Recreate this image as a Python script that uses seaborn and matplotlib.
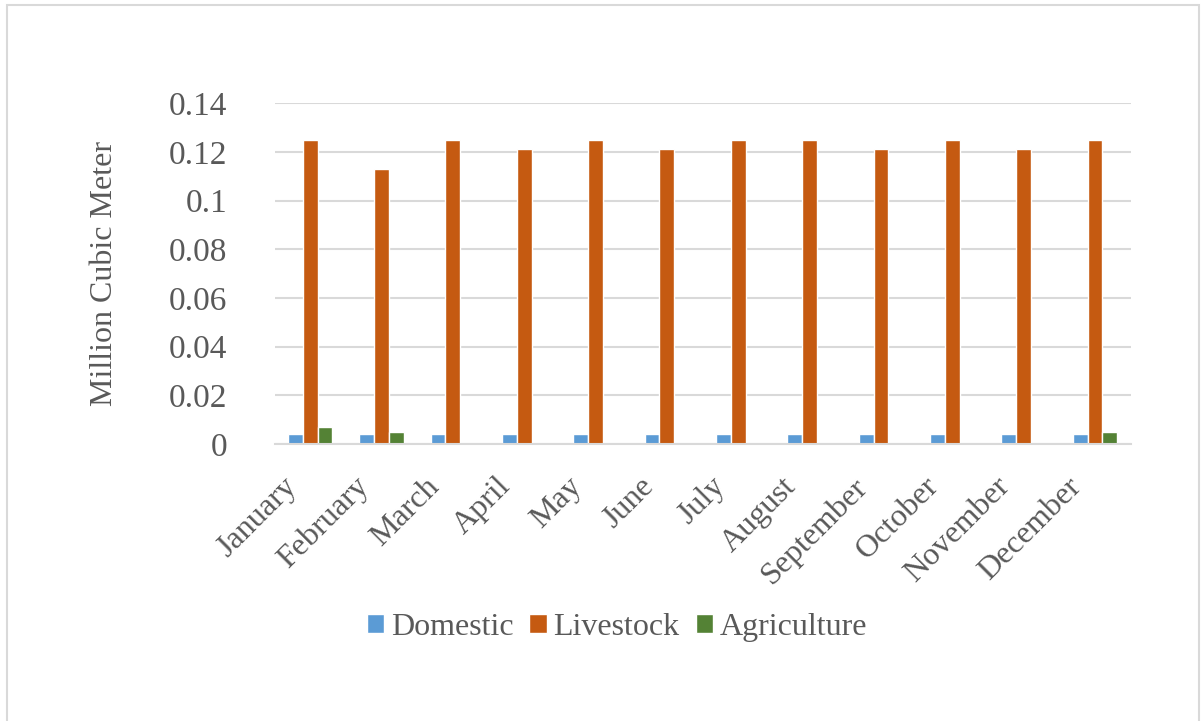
import matplotlib
matplotlib.use("Agg")
import matplotlib.pyplot as plt
import matplotlib.transforms as mtransforms
import seaborn as sns
import pandas as pd
from matplotlib.patches import Rectangle

months = ["January", "February", "March", "April", "May", "June", "July",
          "August", "September", "October", "November", "December"]
domestic = [0.004, 0.004, 0.004, 0.004, 0.004, 0.004, 0.004, 0.004, 0.004, 0.004, 0.004, 0.004]
livestock = [0.125, 0.113, 0.125, 0.121, 0.125, 0.121, 0.125, 0.125, 0.121, 0.125, 0.121, 0.125]
agriculture = [0.007, 0.005, 0.0004, 0.0004, 0.0004, 0.0004, 0.0004, 0.0004, 0.0004, 0.0004, 0.0004, 0.005]
series_names = ["Domestic", "Livestock", "Agriculture"]
colors = ["#5B9BD5", "#C55A11", "#548235"]
yticks = [0, 0.02, 0.04, 0.06, 0.08, 0.1, 0.12, 0.14]
ytick_labels = ["0", "0.02", "0.04", "0.06", "0.08", "0.1", "0.12", "0.14"]

df = pd.DataFrame({
    "Month": months * 3,
    "Series": [series_names[0]] * 12 + [series_names[1]] * 12 + [series_names[2]] * 12,
    "Value": domestic + livestock + agriculture,
})

sns.set_theme(style="white")
plt.rcParams["font.family"] = ["Liberation Serif", "DejaVu Serif"]
text_color = "#595959"
fs = 23

fig = plt.figure(figsize=(12.04, 7.21), dpi=100)
ax = fig.add_axes([0.228, 0.384, 0.711, 0.473])

sns.barplot(data=df, x="Month", y="Value", hue="Series", palette=colors,
            width=0.62, ax=ax, legend=True, saturation=1)

ax.set_ylim(0, 0.14)
ax.set_yticks(yticks)
ax.set_yticklabels(ytick_labels, fontsize=24, color=text_color)
ax.set_xticks(range(len(months)))
ax.set_xticklabels(months, rotation=45, ha="right", rotation_mode="anchor",
                   fontsize=fs, color=text_color)
ax.tick_params(axis="y", length=0, pad=34)
ax.tick_params(axis="x", length=0, pad=20)
offset = mtransforms.ScaledTranslation(-28 / 100, 0, fig.dpi_scale_trans)
for lbl in ax.get_xticklabels():
    lbl.set_transform(lbl.get_transform() + offset)
ax.set_xlabel("")
ax.set_ylabel("Million Cubic Meter", fontsize=fs, color=text_color, labelpad=36)
ax.yaxis.grid(True, color="#D9D9D9", linewidth=1.5)
ax.set_axisbelow(True)
for s in ["top", "right", "left"]:
    ax.spines[s].set_visible(False)
ax.spines["bottom"].set_color("#D9D9D9")
ax.spines["bottom"].set_linewidth(1.5)

handles, labels = ax.get_legend_handles_labels()
ax.legend(handles, labels, loc="upper center", bbox_to_anchor=(0.40, -0.41),
          ncol=3, frameon=False, fontsize=fs, handlelength=0.55, handleheight=0.55,
          handletextpad=0.2, columnspacing=0.5, labelcolor=text_color)

fig.patches.append(Rectangle((0.006, -0.01), 0.99, 1.003, transform=fig.transFigure,
                             fill=False, edgecolor="#D9D9D9", linewidth=1.5))

fig.savefig("out.png", dpi=100)
